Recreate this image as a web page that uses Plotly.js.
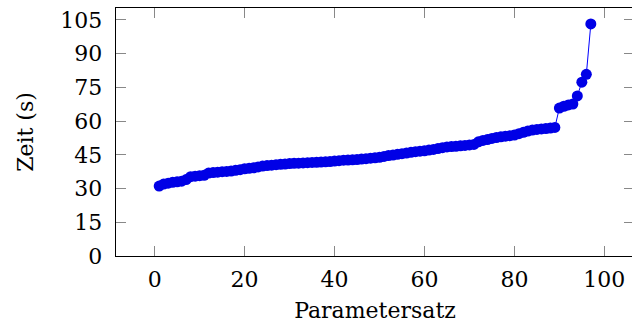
<!DOCTYPE html>
<html>
<head>
<meta charset="utf-8">
<script src="https://cdn.plot.ly/plotly-3.0.1.min.js"></script>
<style>
html, body { margin: 0; padding: 0; overflow: hidden; background: #fff; }
#chart { width: 636px; height: 331px; }
</style>
</head>
<body>
<div id="chart"></div>
<script>
// Parameter set index (1..97)
const parametersatz = [
  1,2,3,4,5,6,7,8,9,10,11,12,13,14,15,16,17,18,19,20,
  21,22,23,24,25,26,27,28,29,30,31,32,33,34,35,36,37,38,39,40,
  41,42,43,44,45,46,47,48,49,50,51,52,53,54,55,56,57,58,59,60,
  61,62,63,64,65,66,67,68,69,70,71,72,73,74,75,76,77,78,79,80,
  81,82,83,84,85,86,87,88,89,90,91,92,93,94,95,96,97
];
// Time in seconds, sorted
const zeit = [
  31.1,32.0,32.4,32.8,33.0,33.3,34.0,35.3,35.5,35.7,
  35.9,36.9,37.1,37.3,37.5,37.6,37.8,38.1,38.4,38.8,
  39.0,39.2,39.6,40.0,40.2,40.4,40.6,40.8,40.9,41.1,
  41.2,41.3,41.4,41.5,41.6,41.7,41.8,41.9,42.0,42.2,
  42.4,42.6,42.7,42.8,42.9,43.1,43.3,43.5,43.7,43.9,
  44.3,44.7,44.9,45.2,45.5,45.8,46.1,46.4,46.6,46.8,
  47.1,47.4,47.8,48.2,48.5,48.7,48.8,49.0,49.2,49.4,
  49.6,50.8,51.4,51.8,52.3,52.7,53.0,53.3,53.5,53.8,
  54.4,55.0,55.6,56.0,56.3,56.5,56.7,56.9,57.2,65.8,
  66.6,67.2,67.6,71.2,77.3,80.8,103.2
];
const xTicks = [0, 20, 40, 60, 80, 100];
const yTicks = [0, 15, 30, 45, 60, 75, 90, 105];

const font = { family: 'DejaVu Serif, Liberation Serif, serif', size: 22, color: '#000' };

Plotly.newPlot('chart', [{
  x: parametersatz,
  y: zeit,
  type: 'scatter',
  mode: 'lines+markers',
  line: { color: '#0000ff', width: 1 },
  marker: { color: '#0000e6', size: 11, line: { width: 0 } },
  hoverinfo: 'skip'
}], {
  width: 636,
  height: 331,
  margin: { l: 116, r: 2, t: 8, b: 75 },
  paper_bgcolor: '#fff',
  plot_bgcolor: '#fff',
  showlegend: false,
  font: font,
  xaxis: {
    range: [-8.6, 106.6],
    tickvals: xTicks,
    ticktext: xTicks.map(String),
    ticks: 'inside',
    ticklen: 10,
    tickwidth: 1,
    tickcolor: '#888',
    showline: true,
    linecolor: '#000',
    linewidth: 1.3,
    mirror: 'ticks',
    showgrid: false,
    zeroline: false,
    ticklabelstandoff: 3,
    tickfont: font,
    title: { text: 'Parametersatz', font: font, standoff: 12 }
  },
  yaxis: {
    range: [0, 110.3],
    tickvals: yTicks,
    ticktext: yTicks.map(String),
    ticks: 'inside',
    ticklen: 10,
    tickwidth: 1,
    tickcolor: '#888',
    showline: true,
    linecolor: '#000',
    linewidth: 1.3,
    mirror: 'ticks',
    showgrid: false,
    zeroline: false,
    ticklabelstandoff: 8,
    tickfont: font,
    title: { text: 'Zeit (s)', font: font, standoff: 20 }
  }
}, { displayModeBar: false, staticPlot: true });
</script>
</body>
</html>
